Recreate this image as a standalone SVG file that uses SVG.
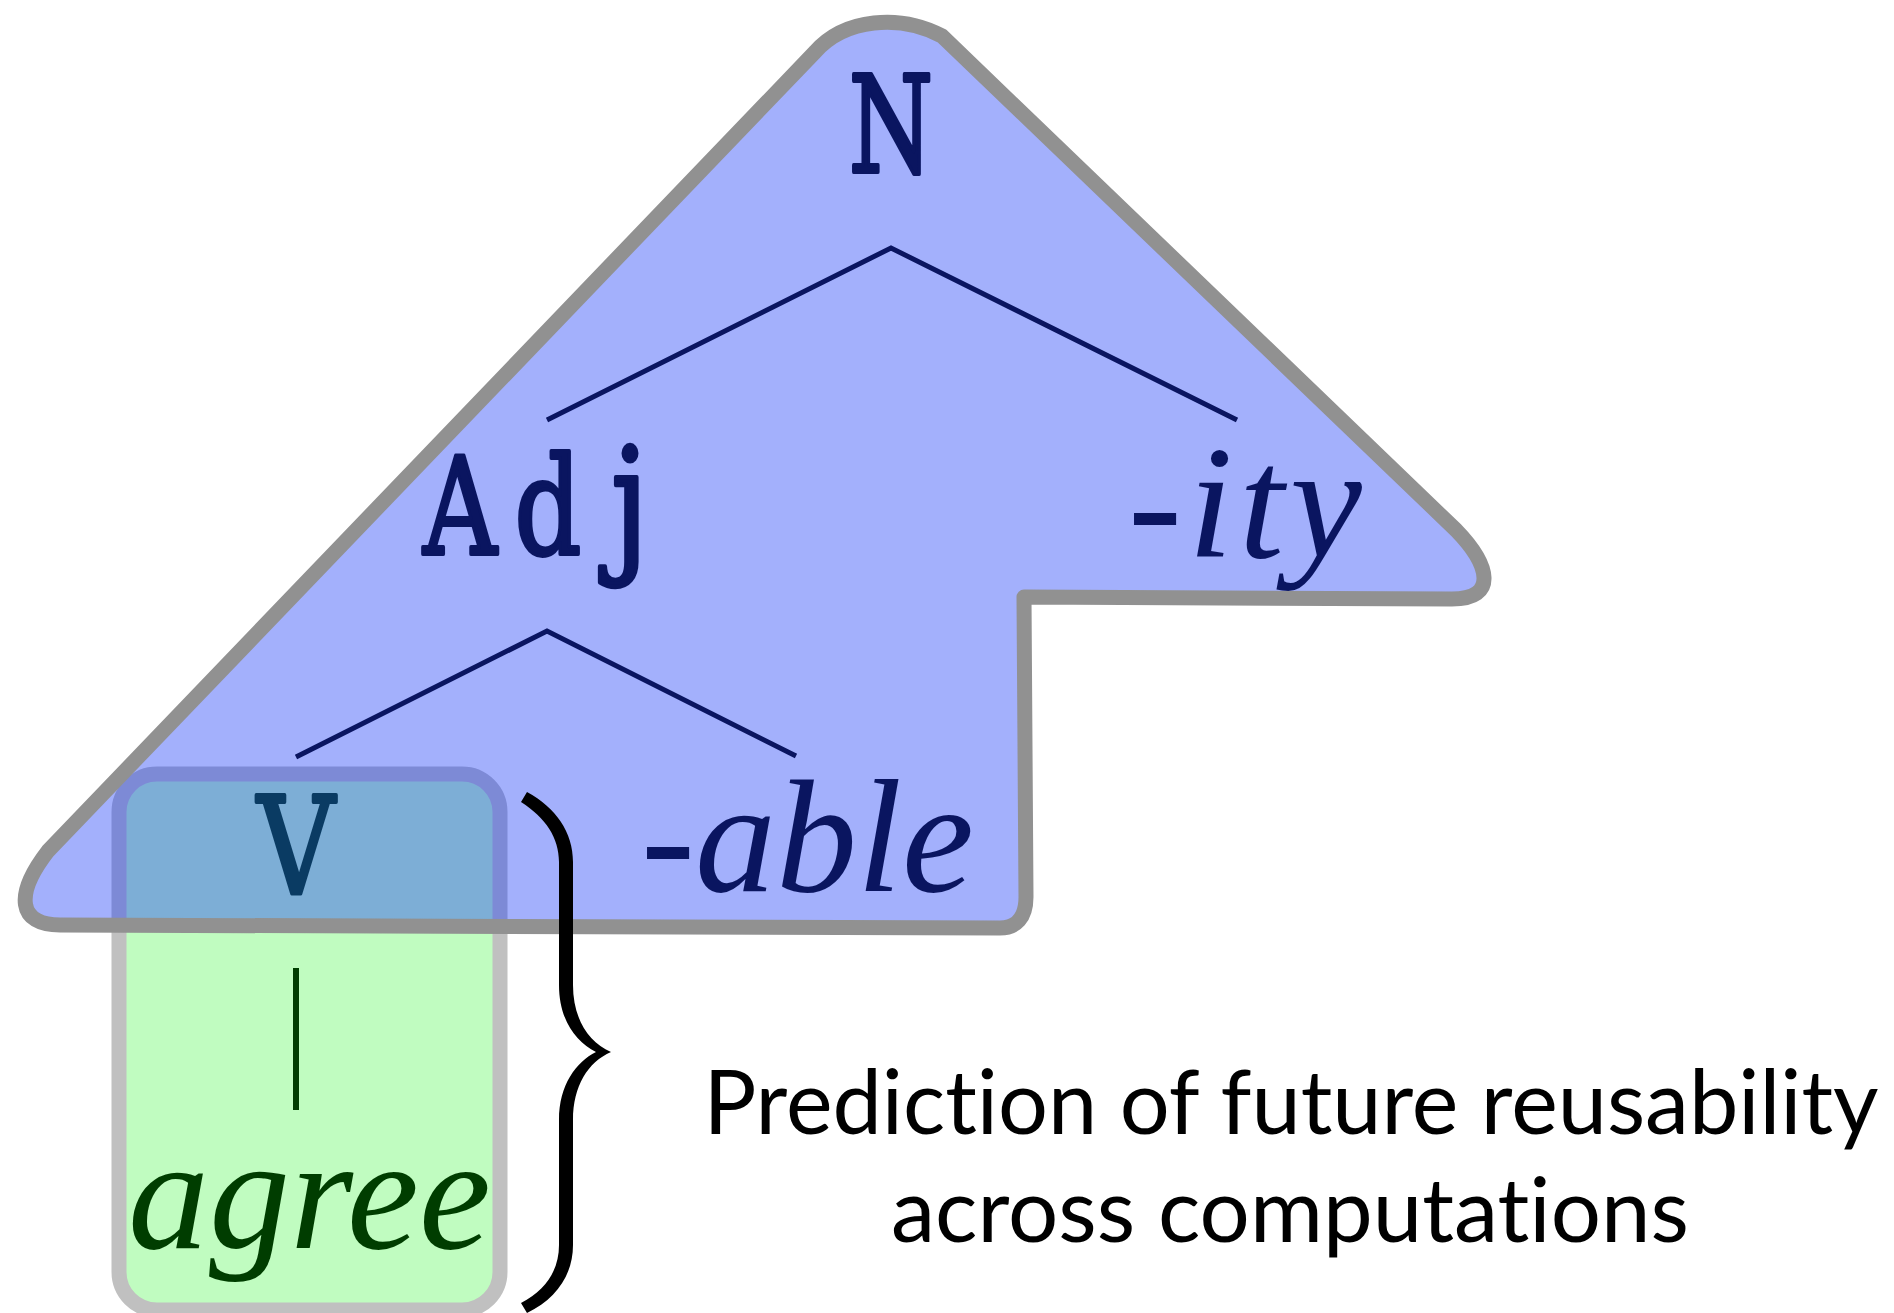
<svg xmlns="http://www.w3.org/2000/svg" width="1894" height="1313" viewBox="0 0 1894 1313">
<style>
.tt{font-family:"DejaVu Serif","Liberation Serif",serif;font-size:134px;text-anchor:middle;stroke-width:4;stroke-linejoin:round}
.mi{font-family:"Liberation Serif","DejaVu Serif",serif;font-style:italic;font-size:162px}
.navy{fill:#0a1560;stroke:#0a1560}
.green{fill:#003d00;stroke:#003d00}
.mi.navy,.mi.green{stroke:none}
.edge{fill:none;stroke:#0a1560;stroke-width:5}
.cap{font-family:Lato,"Liberation Sans",sans-serif;font-size:89px;fill:#000;text-anchor:middle;font-variant-ligatures:none}
</style>
<rect width="1894" height="1313" fill="#ffffff"/>
<g id="agree-box">
<rect x="119" y="774" width="381" height="536" rx="38" fill="#c0fcc0" stroke="#c0c0c0" stroke-width="15"/>
</g>
<g id="node-V"><text class="tt green" transform="translate(296,893) scale(0.8,1)">V</text></g>
<g id="node-agree"><text class="mi green" x="128" y="1248">agree</text></g>
<g id="subtree-region">
<path d="M 60,925 C 18,925 14,895 48,851 L 815,52 C 845,18 900,14 942,36 L 1456,530 C 1490,565 1498,599 1452,599 L 1024,597 L 1026,897 C 1026,918 1016,928 1000,928 Z" fill="#1939f7" fill-opacity="0.4" stroke="#919191" stroke-width="15" stroke-linejoin="round"/>
</g>
<g id="connectors">
<path class="edge" d="M 547,420 L 891,248 L 1237,420"/>
<path class="edge" d="M 296,757 L 547,631 L 796,756"/>
<path d="M 296,968 L 296,1110" fill="none" stroke="#003d00" stroke-width="6"/>
</g>
<g id="node-N"><text class="tt navy" transform="translate(891,172) scale(0.72,1)">N</text></g>
<g id="node-Adj">
<text class="tt navy" transform="translate(460,554) scale(0.76,1)">A</text>
<text class="tt navy" transform="translate(548,554) scale(0.78,1)">d</text>
<text class="tt navy" transform="translate(630,554) scale(0.9,1.1)">j</text>
</g>
<g id="node-ity"><text class="mi navy" x="1128" y="557" letter-spacing="6">-ity</text></g>
<g id="node-able"><text class="mi navy" x="641" y="891">-able</text></g>
<g id="brace">
<path d="M 527,792 C 556,808 573,832 573,862 L 573,985 C 573,1018 588,1042 611,1052 C 588,1062 573,1086 573,1120 L 573,1245 C 573,1275 556,1299 527,1313 L 521,1303 C 546,1290 559,1270 559,1245 L 559,1120 C 559,1085 576,1062 596,1052 C 576,1042 559,1020 559,985 L 559,862 C 559,838 546,818 521,802 Z" fill="#000"/>
</g>
<g id="caption">
<text class="cap" x="1291" y="1134" textLength="1175" lengthAdjust="spacingAndGlyphs">Prediction of future reusability</text>
<text class="cap" x="1290" y="1242" textLength="798" lengthAdjust="spacingAndGlyphs">across computations</text>
</g>
</svg>
